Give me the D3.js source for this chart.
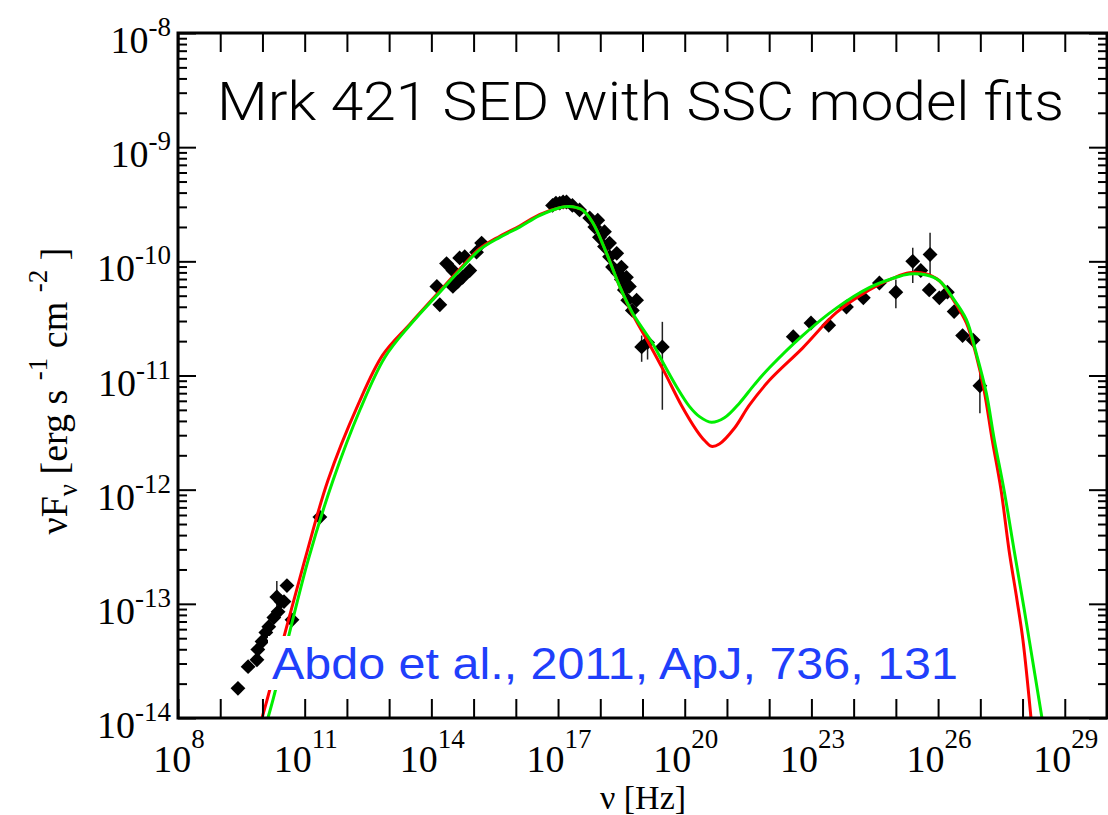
<!DOCTYPE html>
<html>
<head>
<meta charset="utf-8">
<script src="https://cdn.jsdelivr.net/npm/d3@7"></script>
<style>
  body { margin: 0; background: #fff; }
</style>
</head>
<body>
<div id="chart"></div>
<script>
// values are log10(nu [Hz]) and log10(nuFnu [erg s^-1 cm^-2])
const radioPts = [[9.42,-13.74],[9.66,-13.55],[9.87,-13.49],[9.89,-13.40],[9.99,-13.33],
  [10.08,-13.25],[10.15,-13.20],[10.27,-13.12],[10.37,-13.07],[10.44,-12.98],[10.34,-12.94],
  [10.58,-12.84],[10.51,-12.98],[10.70,-13.14],[11.36,-12.24]];
const opticalPts = [[14.20,-10.38],[14.13,-10.22],[14.36,-10.02],[14.51,-10.08],[14.67,-9.97],
  [14.79,-9.96],[14.74,-10.14],[14.91,-10.08],[14.51,-10.22],[15.19,-9.84],[15.07,-9.92],[14.62,-10.18]];
const xrayPts = [[16.87,-9.51],[16.95,-9.49],[17.04,-9.49],[17.12,-9.48],[17.20,-9.48],[17.34,-9.51],
  [17.51,-9.55],[17.75,-9.62],[17.87,-9.70],[17.94,-9.64],[17.98,-9.79],[18.10,-9.74],[18.10,-9.87],
  [18.22,-9.84],[18.22,-9.96],[18.29,-10.05],[18.39,-9.93],[18.41,-10.10],[18.50,-10.16],[18.50,-10.05],
  [18.57,-10.25],[18.62,-10.14],[18.65,-10.34],[18.69,-10.22],[18.76,-10.43],[18.86,-10.34],
  [18.98,-10.75],[19.12,-10.71],[19.47,-10.75]];
const gammaPts = [[22.57,-10.66],[22.99,-10.54],[23.41,-10.56],[23.83,-10.40],[24.23,-10.32],
  [24.61,-10.19],[25.00,-10.27],[25.40,-10.00],[25.59,-10.08],[25.81,-9.94],[25.79,-10.25],
  [26.03,-10.32],[26.22,-10.27],[26.38,-10.44],[26.58,-10.65],[26.83,-10.69],[26.99,-11.09]];
// error bars: [logNu, logLow, logHigh]
const errBars = [[10.34,-13.10,-12.80],[18.98,-10.88,-10.65],[19.12,-10.86,-10.65],[19.47,-11.30,-10.53],
  [25.00,-10.41,-10.16],[25.40,-10.19,-9.88],[25.81,-10.13,-9.75],[26.99,-11.33,-10.95]];

const modelRed = [[9.99,-14.00],[10.11,-13.84],[11.00,-12.62],[11.55,-11.92],[12.26,-11.26],[12.85,-10.82],
  [13.49,-10.55],[14.20,-10.26],[14.67,-10.07],[15.14,-9.89],[15.62,-9.78],[16.09,-9.69],[16.56,-9.59],
  [17.04,-9.53],[17.27,-9.52],[17.44,-9.53],[17.58,-9.55],[17.82,-9.66],[18.15,-9.93],[18.46,-10.22],
  [18.76,-10.46],[19.17,-10.73],[19.52,-10.97],[19.92,-11.26],[20.28,-11.48],[20.47,-11.57],[20.63,-11.62],
  [20.82,-11.60],[21.18,-11.46],[21.53,-11.26],[22.01,-11.04],[22.79,-10.76],[23.59,-10.45],[24.37,-10.25],
  [24.92,-10.15],[25.32,-10.10],[25.72,-10.11],[26.03,-10.17],[26.33,-10.32],[26.67,-10.54],[26.90,-10.82],
  [27.09,-11.13],[27.28,-11.56],[27.49,-12.00],[27.68,-12.53],[27.87,-12.97],[28.01,-13.32],[28.20,-14.00]];
const modelGreen = [[10.13,-14.00],[10.25,-13.84],[11.08,-12.62],[11.67,-11.92],[12.31,-11.30],[12.90,-10.84],
  [13.49,-10.56],[14.20,-10.27],[14.67,-10.08],[15.14,-9.90],[15.62,-9.79],[16.09,-9.70],[16.56,-9.60],
  [17.04,-9.53],[17.27,-9.52],[17.44,-9.53],[17.58,-9.55],[17.82,-9.66],[18.15,-9.93],[18.46,-10.22],
  [18.76,-10.45],[19.24,-10.72],[19.52,-10.91],[19.81,-11.10],[20.11,-11.27],[20.35,-11.36],[20.63,-11.41],
  [20.94,-11.37],[21.30,-11.24],[21.65,-11.08],[22.01,-10.93],[22.79,-10.65],[23.59,-10.41],[24.37,-10.23],
  [24.92,-10.15],[25.32,-10.11],[25.72,-10.12],[26.03,-10.17],[26.33,-10.31],[26.67,-10.51],[26.90,-10.80],
  [27.14,-11.15],[27.33,-11.56],[27.56,-12.00],[27.80,-12.53],[28.04,-13.05],[28.16,-13.32],[28.46,-14.00]];

const xDecades = d3.range(8, 30);          // 10^8 ... 10^29
const xLabelExps = [8, 11, 14, 17, 20, 23, 26, 29];
const yLabelExps = [-14, -13, -12, -11, -10, -9, -8];

const titleText = "Mrk 421 SED with SSC model fits";
const refText = "Abdo et al., 2011, ApJ, 736, 131";

let width = 1108,
    height = 815;
const plotL = 178, plotR = 1107, plotT = 33, plotB = 718;
const p = v => Math.pow(10, v);

const svg = d3.select("#chart")
  .append("svg")
  .attr("width", width)
  .attr("height", height)
  .style("display", "block");

const x = d3.scaleLog().domain([1e8, 1e30]).range([plotL, plotR]);
const y = d3.scaleLog().domain([1e-14, 1e-8]).range([plotB, plotT]);

svg.append("defs").append("clipPath").attr("id", "plot")
  .append("rect").attr("x", plotL).attr("y", plotT)
  .attr("width", plotR - plotL).attr("height", plotB - plotT);

// data
const allPts = radioPts.concat(opticalPts, xrayPts, gammaPts);

svg.append("g").attr("clip-path", "url(#plot)")
  .selectAll("line.err")
  .data(errBars)
  .enter().append("line")
  .attr("class", "err")
  .attr("x1", d => x(p(d[0]))).attr("x2", d => x(p(d[0])))
  .attr("y1", d => y(p(d[1]))).attr("y2", d => y(p(d[2])))
  .style("stroke", "#222")
  .style("stroke-width", 1.5);

svg.append("g").attr("clip-path", "url(#plot)")
  .selectAll("path.pt")
  .data(allPts)
  .enter().append("path")
  .attr("class", "pt")
  .attr("d", d3.symbol(d3.symbolSquare, 110))
  .attr("transform", d => "translate(" + x(p(d[0])) + "," + y(p(d[1])) + ") rotate(45)")
  .style("fill", "#000");

const line = d3.line()
  .x(d => x(p(d[0])))
  .y(d => y(p(d[1])))
  .curve(d3.curveCatmullRom.alpha(0.5));

const models = svg.append("g").attr("clip-path", "url(#plot)");
models.append("path").datum(modelRed)
  .attr("d", line)
  .style("fill", "none").style("stroke", "#ff0000").style("stroke-width", 3);
models.append("path").datum(modelGreen)
  .attr("d", line)
  .style("fill", "none").style("stroke", "#00ee00").style("stroke-width", 3);

// reference label with white box
svg.append("rect")
  .attr("x", 268).attr("y", 636).attr("width", 697).attr("height", 54)
  .style("fill", "#fff");
svg.append("text")
  .attr("x", 272).attr("y", 679)
  .attr("textLength", 686)
  .attr("lengthAdjust", "spacingAndGlyphs")
  .style("font-family", "'Liberation Sans', Arial, sans-serif")
  .style("font-size", "45px")
  .style("fill", "#1f3ffb")
  .text(refText);

// axes: ticks pointing inward
const minorY = [];
d3.range(-14, -8).forEach(e => { for (let k = 2; k <= 9; k++) minorY.push(k * p(e)); });
const majorY = yLabelExps.map(p);
const majorX = xDecades.map(p);

function styleAxis(g) {
  g.select(".domain").remove();
  g.selectAll(".tick line").style("stroke", "#000").style("stroke-width", 2);
}

svg.append("g").attr("transform", "translate(0," + plotB + ")")
  .call(d3.axisBottom(x).tickValues(majorX).tickSize(-19).tickFormat("")).call(styleAxis);
svg.append("g").attr("transform", "translate(0," + plotT + ")")
  .call(d3.axisTop(x).tickValues(majorX).tickSize(-19).tickFormat("")).call(styleAxis);
svg.append("g").attr("transform", "translate(" + plotL + ",0)")
  .call(d3.axisLeft(y).tickValues(majorY).tickSize(-18).tickFormat("")).call(styleAxis);
svg.append("g").attr("transform", "translate(" + plotL + ",0)")
  .call(d3.axisLeft(y).tickValues(minorY).tickSize(-9).tickFormat("")).call(styleAxis);
svg.append("g").attr("transform", "translate(" + plotR + ",0)")
  .call(d3.axisRight(y).tickValues(majorY).tickSize(-18).tickFormat("")).call(styleAxis);
svg.append("g").attr("transform", "translate(" + plotR + ",0)")
  .call(d3.axisRight(y).tickValues(minorY).tickSize(-9).tickFormat("")).call(styleAxis);

svg.append("rect")
  .attr("x", plotL).attr("y", plotT)
  .attr("width", plotR - plotL).attr("height", plotB - plotT)
  .style("fill", "none").style("stroke", "#000").style("stroke-width", 3);

const serif = "'Liberation Serif', 'Times New Roman', serif";

// x tick labels
const xl = svg.append("g").selectAll("text")
  .data(xLabelExps)
  .enter().append("text")
  .attr("x", d => x(p(d)) + 1)
  .attr("y", 772)
  .attr("text-anchor", "middle")
  .style("font-family", serif)
  .style("font-size", "38px");
xl.append("tspan").text("10");
xl.append("tspan").attr("dy", -24).style("font-size", "27px").text(d => d);

// y tick labels
const yl = svg.append("g").selectAll("text")
  .data(yLabelExps)
  .enter().append("text")
  .attr("x", 171)
  .attr("y", d => y(p(d)) + 20)
  .attr("text-anchor", "end")
  .style("font-family", serif)
  .style("font-size", "38px");
yl.append("tspan").text("10");
yl.append("tspan").attr("dy", -17).style("font-size", "27px").text(d => String(d).replace("\u2212", "-"));

// axis titles
svg.append("text")
  .attr("x", 643).attr("y", 809)
  .attr("text-anchor", "middle")
  .style("font-family", serif)
  .style("font-size", "34px")
  .text("\u03bd [Hz]");

const yt = svg.append("text")
  .attr("transform", "translate(67,391) rotate(-90)")
  .attr("text-anchor", "middle")
  .style("font-family", serif)
  .style("font-size", "38px");
yt.append("tspan").text("\u03bdF");
yt.append("tspan").attr("dy", 10).style("font-size", "27px").text("\u03bd");
yt.append("tspan").attr("dy", -10).text(" [erg s ");
yt.append("tspan").attr("dy", -20).style("font-size", "27px").text("-1");
yt.append("tspan").attr("dy", 20).text(" cm ");
yt.append("tspan").attr("dy", -20).style("font-size", "27px").text("-2");
yt.append("tspan").attr("dy", 20).text(" ]");

// title
svg.append("text")
  .attr("x", 217).attr("y", 120)
  .attr("textLength", 847)
  .attr("lengthAdjust", "spacingAndGlyphs")
  .style("font-family", "Roboto, 'Liberation Sans', sans-serif")
  .style("font-weight", 300)
  .style("font-size", "54px")
  .text(titleText);
</script>
</body>
</html>
